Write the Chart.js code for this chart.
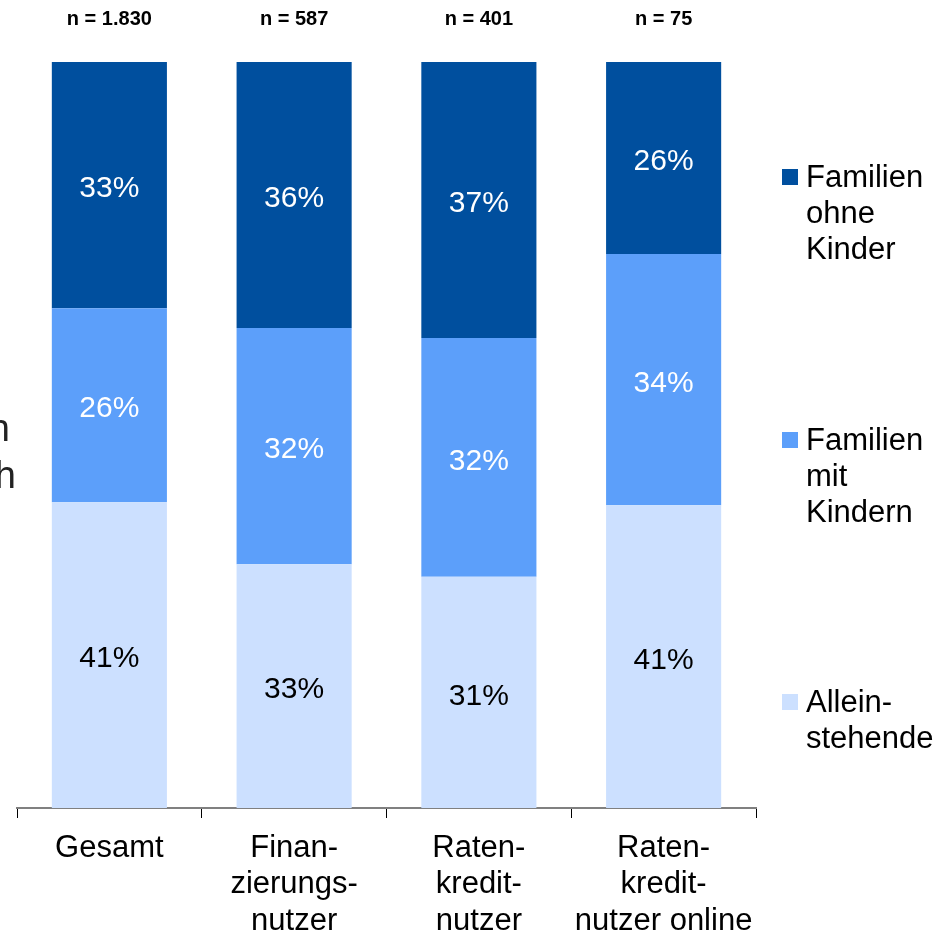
<!DOCTYPE html>
<html>
<head>
<meta charset="utf-8">
<script src="https://cdn.jsdelivr.net/npm/chart.js@4/dist/chart.umd.min.js"></script>
<style>
  html, body { margin: 0; padding: 0; background: #fff; }
  #wrap { position: relative; width: 948px; height: 934px; overflow: hidden; font-family: "Liberation Sans", Arial, sans-serif; }
  canvas { position: absolute; left: 0; top: 0; }
  .legend-item { position: absolute; left: 806px; font-size: 31px; line-height: 36px; color: #000; white-space: pre-line; }
  .legend-box { position: absolute; left: 782px; width: 16px; height: 16px; }
  .side { position: absolute; font-size: 38px; line-height: 52px; color: #222; white-space: nowrap; text-align: right; }
</style>
</head>
<body>
<div id="wrap">
  <canvas id="c" width="948" height="934"></canvas>
  <div class="side" style="right:938px; top:402px;">Angaben in</div>
  <div class="side" style="right:932px; top:449px;">Prozent je nach</div>
</div>
<script>
// ---- data ----
const categories = [['Gesamt'], ['Finan-', 'zierungs-', 'nutzer'], ['Raten-', 'kredit-', 'nutzer'], ['Raten-', 'kredit-', 'nutzer online']];
const sampleSizes = ['n = 1.830', 'n = 587', 'n = 401', 'n = 75'];
const seriesNames = ['Alleinstehende', 'Familien mit Kindern', 'Familien ohne Kinder'];
const legendLabels = ['Allein-\nstehende', 'Familien\nmit\nKindern', 'Familien\nohne\nKinder'];
const alleinstehende = [41, 33, 31, 41];
const mitKindern = [26, 32, 32, 34];
const ohneKinder = [33, 36, 37, 26];

// ---- styles ----
const colors = ['#CCE0FF', '#5C9FFA', '#004F9E'];
const labelColors = ['#000000', '#FFFFFF', '#FFFFFF'];
const FONT = '"Liberation Sans", Arial, sans-serif';

const series = [alleinstehende, mitKindern, ohneKinder];
const totals = categories.map((_, i) => series.reduce((s, arr) => s + arr[i], 0));

const datasets = series.map((arr, k) => ({
  label: seriesNames[k],
  data: arr.map((v, i) => v / totals[i] * 100),
  raw: arr,
  labelColor: labelColors[k],
  backgroundColor: colors[k],
  borderWidth: 0,
  categoryPercentage: 1.0,
  barPercentage: 0.623
}));

const valueLabels = {
  id: 'valueLabels',
  afterDatasetsDraw(chart) {
    const ctx = chart.ctx;
    chart.data.datasets.forEach((ds, di) => {
      const meta = chart.getDatasetMeta(di);
      meta.data.forEach((bar, i) => {
        const p = bar.getProps(['x', 'y', 'base'], true);
        ctx.save();
        ctx.font = '30px ' + FONT;
        ctx.fillStyle = ds.labelColor;
        ctx.textAlign = 'center';
        ctx.textBaseline = 'middle';
        ctx.fillText(ds.raw[i] + '%', p.x, (p.y + p.base) / 2 + 4);
        ctx.restore();
      });
    });
  }
};

new Chart(document.getElementById('c'), {
  type: 'bar',
  data: { labels: categories, datasets: datasets },
  options: {
    responsive: false,
    animation: false,
    layout: { padding: { left: 17, right: 192, top: 0, bottom: 0 } },
    plugins: { legend: { display: false }, tooltip: { enabled: false } },
    scales: {
      x: {
        type: 'category',
        position: 'bottom',
        stacked: true,
        offset: true,
        grid: { display: true, offset: true, drawOnChartArea: false, drawTicks: true, tickLength: 10, color: '#000', lineWidth: 1 },
        border: { display: true, color: '#808080', width: 2 },
        ticks: { font: { family: FONT, size: 31, lineHeight: 1.18 }, color: '#000', padding: 12, maxRotation: 0, autoSkip: false },
        afterFit(s) { s.height = 126; }
      },
      x2: {
        type: 'category',
        position: 'top',
        labels: sampleSizes,
        offset: true,
        grid: { display: false, drawTicks: false, offset: true },
        border: { display: false },
        ticks: { font: { family: FONT, size: 20, weight: 'bold' }, color: '#000', padding: 31, maxRotation: 0, autoSkip: false },
        afterFit(s) { s.height = 62; }
      },
      y: { stacked: true, min: 0, max: 100, display: false }
    }
  },
  plugins: [valueLabels]
});

// HTML legend (multi-line labels), reversed order like the reference
const wrap = document.getElementById('wrap');
const legendTops = [684, 422, 159];
[2, 1, 0].forEach(k => {
  const box = document.createElement('div');
  box.className = 'legend-box';
  box.style.background = colors[k];
  box.style.top = (legendTops[k] + 10) + 'px';
  wrap.appendChild(box);
  const t = document.createElement('div');
  t.className = 'legend-item';
  t.style.top = legendTops[k] + 'px';
  t.textContent = legendLabels[k];
  wrap.appendChild(t);
});
</script>
</body>
</html>
